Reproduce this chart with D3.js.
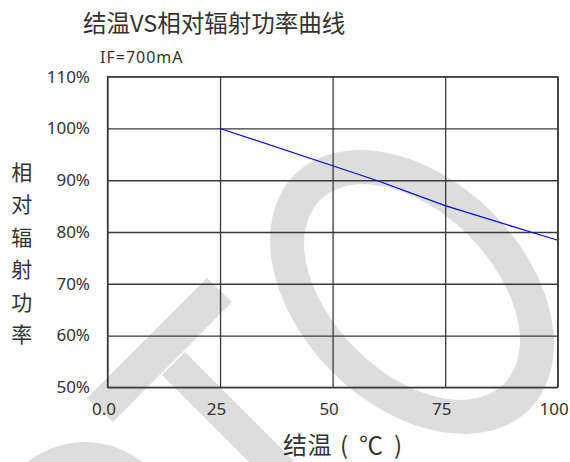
<!DOCTYPE html>
<html>
<head>
<meta charset="utf-8">
<script src="https://cdn.jsdelivr.net/npm/d3@7"></script>
<style>
  body { margin: 0; background: #fff; }
  svg { display: block; }
  text { fill: #333; }
</style>
</head>
<body>
<div id="chart"></div>
<script>
// data
var temps = [25, 50, 60, 75, 94, 100];
var power = [100, 92.8, 89.9, 85.1, 80, 78.4];
var xTicks = [0, 25, 50, 75, 100];
var xTickLabels = ["0.0", "25", "50", "75", "100"];
var yTicks = [50, 60, 70, 80, 90, 100, 110];

var W = 570, H = 462;
var margin = {top: 76.7, right: 12.3, bottom: 74.7, left: 107.5},
    width = W - margin.left - margin.right,
    height = H - margin.top - margin.bottom;

var svg = d3.select("#chart").append("svg")
    .attr("width", W)
    .attr("height", H);

// grey watermark in the background (decoration, not data)
var wm = svg.append("g").attr("fill", "#dddddd");
function ellipsePath(cx, cy, a, b) {
  return "M" + (cx - a) + "," + cy +
    "A" + a + "," + b + " 0 1,0 " + (cx + a) + "," + cy +
    "A" + a + "," + b + " 0 1,0 " + (cx - a) + "," + cy + "Z";
}
wm.append("path")
    .attr("fill-rule", "evenodd")
    .attr("transform", "rotate(45,412,292)")
    .attr("d", ellipsePath(412, 292, 166, 113) + ellipsePath(412, 292, 130, 80));
wm.append("path")
    .attr("d", "M87,398L113,422L232,302L207,278Z");
wm.append("path")
    .attr("d", "M185,352L162,375L362,575L385,552Z");
wm.append("path")
    .attr("fill-rule", "evenodd")
    .attr("d", ellipsePath(85, 530, 90, 88) + ellipsePath(85, 530, 55, 55));

var g = svg.append("g")
    .attr("transform", "translate(" + margin.left + "," + margin.top + ")");

var x = d3.scaleLinear().domain([0, 100]).range([0, width]);
var y = d3.scaleLinear().domain([50, 110]).range([height, 0]);

var xAxis = d3.axisBottom(x)
    .tickValues(xTicks)
    .tickSizeInner(-height)
    .tickSizeOuter(0)
    .tickPadding(15.7)
    .tickFormat(function(d, i) { return xTickLabels[i]; });

var yAxis = d3.axisLeft(y)
    .tickValues(yTicks)
    .tickSizeInner(-width)
    .tickSizeOuter(0)
    .tickPadding(17.5)
    .tickFormat(function(d) { return d + "%"; });

var gx = g.append("g")
    .attr("transform", "translate(0," + height + ")")
    .call(xAxis);
var gy = g.append("g").call(yAxis);

[gx, gy].forEach(function(a) {
  a.select(".domain").remove();
  a.selectAll(".tick line").attr("stroke", "#3a3a3a").attr("stroke-width", 1.3);
  a.selectAll(".tick text")
      .attr("fill", "#333")
      .style("font-family", "'Noto Sans', 'Open Sans', sans-serif")
      .style("font-size", "17px");
});
gx.selectAll(".tick text").attr("dx", -4);

g.append("rect")
    .attr("width", width)
    .attr("height", height)
    .attr("fill", "none")
    .attr("stroke", "#3a3a3a")
    .attr("stroke-width", 1.3);

var line = d3.line()
    .x(function(d) { return x(d[0]); })
    .y(function(d) { return y(d[1]); });

g.append("path")
    .datum(d3.zip(temps, power))
    .attr("fill", "none")
    .attr("stroke", "#0000ff")
    .attr("stroke-width", 1.2)
    .attr("d", line);

var cjk = "'Noto Sans CJK SC', sans-serif";

svg.append("text")
    .attr("x", 83)
    .attr("y", 32)
    .style("font-family", cjk)
    .style("font-size", "23.5px")
    .text("结温VS相对辐射功率曲线");

svg.append("text")
    .attr("x", 100)
    .attr("y", 63.3)
    .style("font-family", "'Noto Sans', sans-serif")
    .style("font-size", "16px")
    .style("letter-spacing", "1px")
    .text("IF=700mA");

var yLabel = "相对辐射功率".split("");
svg.append("g").selectAll("text")
    .data(yLabel)
    .join("text")
    .attr("x", 21.7)
    .attr("y", function(d, i) { return 172 + i * 32.5; })
    .attr("dy", "0.36em")
    .attr("text-anchor", "middle")
    .style("font-family", cjk)
    .style("font-size", "21px")
    .text(function(d) { return d; });

// x title, glyphs spaced out like the reference
svg.append("text")
    .attr("x", "283 307.5 340 359 394")
    .attr("y", 454)
    .style("font-family", cjk)
    .style("font-size", "24px")
    .text("结温(℃)");
</script>
</body>
</html>
